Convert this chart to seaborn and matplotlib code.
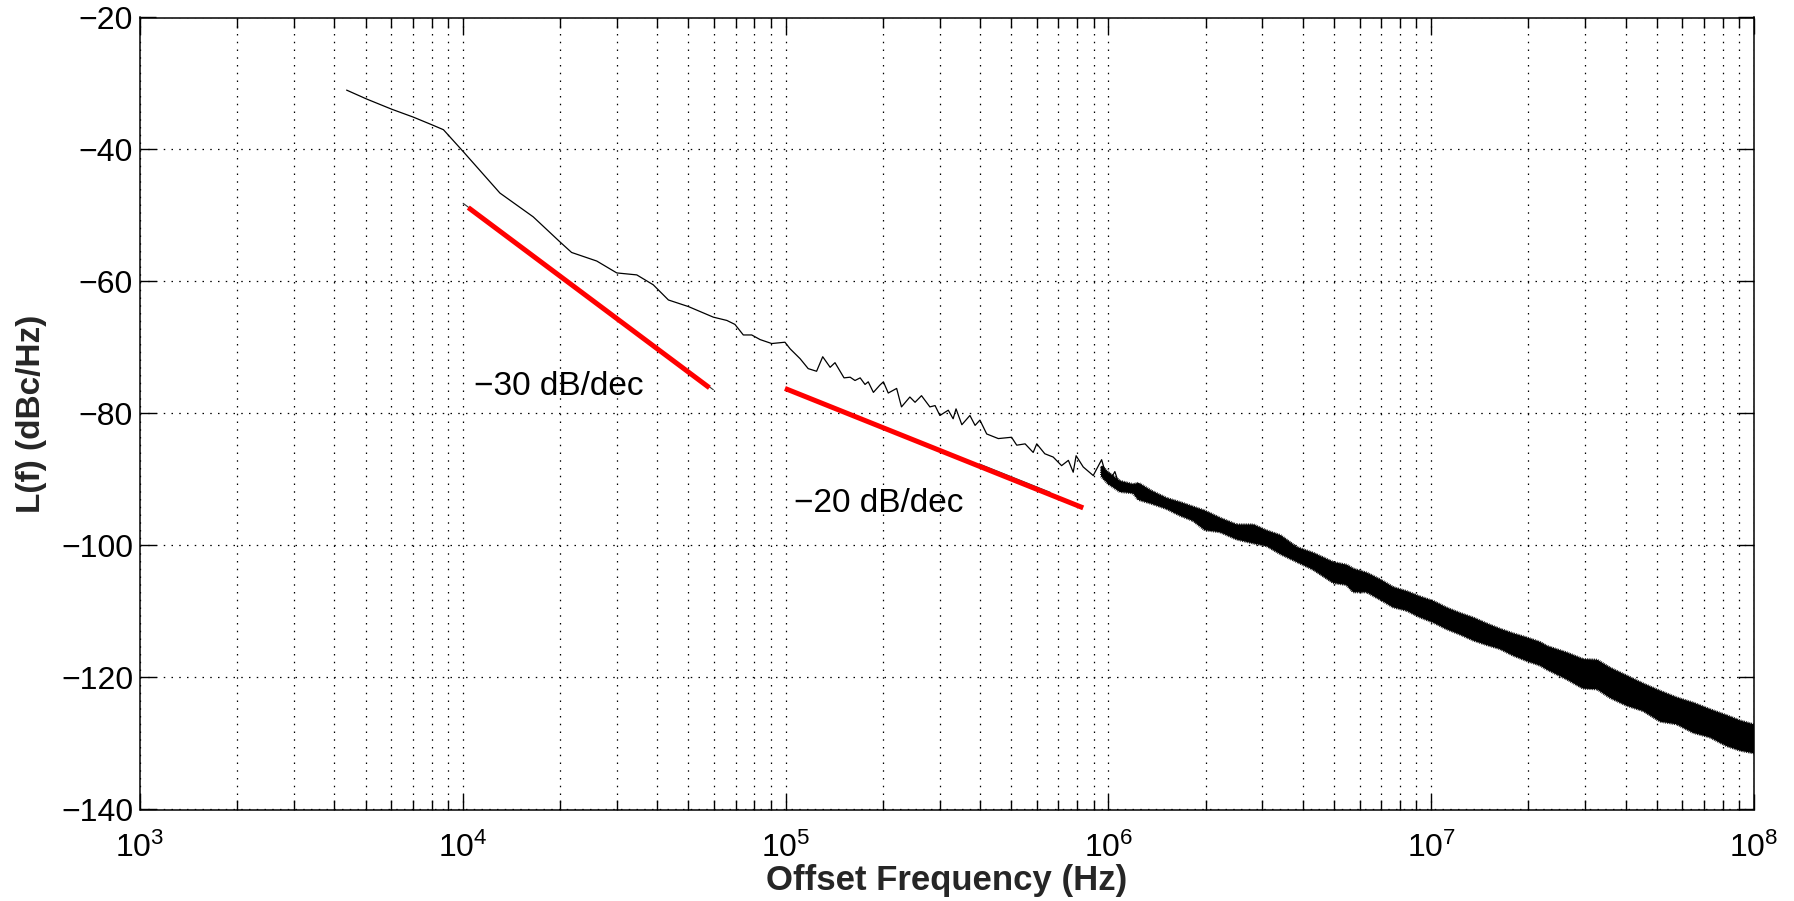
import matplotlib
matplotlib.use("Agg")
import matplotlib.pyplot as plt
import matplotlib.patheffects as pe
import seaborn as sns
import numpy as np
from matplotlib.ticker import LogLocator, FixedLocator, NullFormatter

# phase noise trace: log10(offset freq / Hz), L(f) in dBc/Hz
trace_logf = [3.640, 3.702, 3.780, 3.847, 3.904, 3.940, 4.001, 4.115, 4.218, 4.301,
              4.337, 4.415, 4.477, 4.539, 4.590, 4.637, 4.699, 4.776, 4.818, 4.843,
              4.869, 4.895, 4.921, 4.957, 4.998, 5.014, 5.045, 5.070, 5.096, 5.115,
              5.138, 5.153, 5.181, 5.200, 5.215, 5.231, 5.246, 5.256, 5.272, 5.292,
              5.303, 5.318, 5.344, 5.359, 5.385, 5.401, 5.421, 5.447, 5.463, 5.478,
              5.504, 5.519, 5.528, 5.546, 5.571, 5.587, 5.602, 5.623, 5.659, 5.700,
              5.716, 5.742, 5.767, 5.778, 5.803, 5.829, 5.855, 5.876, 5.891, 5.900,
              5.922, 5.953, 5.979, 6.000, 6.020, 6.036]
trace_db = [-31.0, -32.35, -33.9, -35.1, -36.25, -37.0, -40.3, -46.6, -50.2, -54.0,
            -55.6, -56.9, -58.7, -59.0, -60.5, -62.8, -63.8, -65.4, -65.9, -66.5,
            -68.1, -68.1, -68.8, -69.4, -69.2, -70.2, -71.7, -73.2, -73.6, -71.4,
            -73.0, -72.3, -74.6, -74.5, -75.0, -74.6, -75.6, -75.2, -76.8, -75.7,
            -75.2, -76.9, -76.2, -79.0, -77.5, -78.3, -77.3, -79.0, -78.8, -80.3,
            -79.5, -80.8, -79.3, -81.7, -80.3, -81.8, -81.0, -83.1, -83.8, -83.6,
            -84.8, -84.6, -85.9, -84.6, -86.1, -86.6, -87.9, -87.1, -88.9, -86.4,
            -88.1, -89.4, -87.0, -90.6, -88.8, -91.2]

# above ~1 MHz the trace is a dense noise band: upper / lower envelope
band_logf = [5.979, 6.000, 6.036, 6.077, 6.093, 6.134, 6.181,
             6.222, 6.263, 6.299, 6.346, 6.397, 6.449, 6.490, 6.532, 6.583, 6.635,
             6.697, 6.738, 6.759, 6.800, 6.841, 6.883, 6.924, 6.965, 7.007, 7.048,
             7.089, 7.130, 7.172, 7.213, 7.254, 7.295, 7.337, 7.358, 7.420, 7.471,
             7.514, 7.554, 7.606, 7.657, 7.709, 7.760, 7.812, 7.864, 7.915, 7.957,
             8.000]
band_hi = [-88.0, -89.0, -90.3, -90.8, -90.6, -91.8, -92.9,
           -93.5, -94.2, -94.8, -95.9, -96.9, -96.9, -97.8, -98.5, -100.3, -101.2,
           -102.6, -103.0, -103.6, -104.2, -105.2, -106.4, -107.0, -107.8, -108.5, -109.5,
           -110.3, -111.0, -111.9, -112.7, -113.4, -114.0, -114.7, -115.3, -116.3, -117.3,
           -117.4, -118.6, -119.8, -121.0, -122.1, -123.1, -123.9, -124.9, -125.8, -126.6,
           -127.2]
band_lo = [-89.5, -90.6, -91.8, -92.0, -93.0, -93.6, -94.4,
           -95.4, -96.2, -97.6, -97.9, -99.0, -99.6, -100.0, -101.2, -102.4, -103.6,
           -105.6, -105.9, -107.0, -107.0, -108.1, -109.3, -109.8, -110.8, -111.6, -112.6,
           -113.4, -114.3, -115.0, -115.6, -116.6, -117.4, -118.1, -118.7, -120.2, -121.6,
           -121.7, -123.0, -124.2, -125.0, -126.6, -127.0, -128.3, -129.0, -130.3, -131.0,
           -131.4]

# slope guide lines (red) and the thin lines under them
slope30_logf = [4.017, 4.764]
slope30_db = [-48.8, -76.1]
slope30_thin_logf = [4.001, 4.776]
slope30_thin_db = [-48.15, -76.4]
slope20_logf = [4.998, 5.922]
slope20_db = [-76.2, -94.3]
slope20_thin_logf = [5.60, 5.82]
slope20_thin_db = [-87.64, -91.95]

labels = ["\u221230 dB/dec", "\u221220 dB/dec"]
label_logf = [4.036, 5.027]
label_db = [-77.2, -95.0]

y_ticks = [-140, -120, -100, -80, -60, -40, -20]

to_hz = lambda v: 10 ** np.asarray(v)

sns.set_style("ticks")
plt.rcParams['font.family'] = ['Liberation Sans', 'DejaVu Sans']
plt.rcParams['mathtext.fontset'] = 'custom'
plt.rcParams['mathtext.rm'] = 'Liberation Sans'
plt.rcParams['mathtext.it'] = 'Liberation Sans:italic'
plt.rcParams['mathtext.bf'] = 'Liberation Sans:bold'

fig = plt.figure(figsize=(17.94, 9.01), dpi=100)
ax = fig.add_axes([140 / 1794, 1 - 809.5 / 901, 1614 / 1794, 792 / 901])

dots = (0, (1.2, 5.0))
ax.set_xscale('log')
ax.set_xlim(1e3, 1e8)
ax.set_ylim(-140, -20)

ax.xaxis.set_major_locator(LogLocator(base=10, numticks=10))
ax.xaxis.set_minor_locator(LogLocator(base=10, subs=np.arange(2, 10), numticks=100))
ax.xaxis.set_minor_formatter(NullFormatter())
ax.yaxis.set_major_locator(FixedLocator(y_ticks))

ax.grid(True, which='both', axis='x', color='black', linestyle=dots, linewidth=0.9)
ax.grid(True, which='major', axis='y', color='black', linestyle=dots, linewidth=0.9)
ax.set_axisbelow(True)

ax.tick_params(which='both', direction='in', top=True, right=True, width=1.0,
               color='black', labelsize=23, labelcolor='black')
ax.tick_params(which='major', length=11.5)
ax.tick_params(which='minor', length=7.5)
ax.tick_params(axis='y', pad=5)
ax.tick_params(axis='x', pad=17)
for s in ax.spines.values():
    s.set_color('black')
    s.set_linewidth(1.1)

# noise band, edges roughened with short ticks
band = ax.fill_between(to_hz(band_logf), band_lo, band_hi, color='black', linewidth=0.8,
                       edgecolor='black', zorder=3)
band.set_path_effects([pe.withTickedStroke(angle=-90, spacing=1.3, length=0.9,
                                           linewidth=0.6)])
sns.lineplot(x=to_hz(trace_logf), y=trace_db, ax=ax, color='black', linewidth=0.9,
             estimator=None, sort=False, zorder=4)

sns.lineplot(x=to_hz(slope30_thin_logf), y=slope30_thin_db, ax=ax, color='#333333',
             linewidth=0.8, estimator=None, sort=False, zorder=4)
sns.lineplot(x=to_hz(slope20_thin_logf), y=slope20_thin_db, ax=ax, color='#333333',
             linewidth=0.8, estimator=None, sort=False, zorder=4)
sns.lineplot(x=to_hz(slope30_logf), y=slope30_db, ax=ax, color='#ff0000',
             linewidth=3.6, estimator=None, sort=False, zorder=5, solid_capstyle='butt')
sns.lineplot(x=to_hz(slope20_logf), y=slope20_db, ax=ax, color='#ff0000',
             linewidth=3.6, estimator=None, sort=False, zorder=5, solid_capstyle='butt')

for t, lf, d in zip(labels, label_logf, label_db):
    ax.text(10 ** lf, d, t, fontsize=24, ha='left', va='baseline', color='black', zorder=6)

ax.set_xlabel('Offset Frequency (Hz)', fontsize=25, fontweight='bold', labelpad=0)
ax.set_ylabel('L(f) (dBc/Hz)', fontsize=24, fontweight='bold', labelpad=10)

fig.savefig('out.png', dpi=100, facecolor='white')
